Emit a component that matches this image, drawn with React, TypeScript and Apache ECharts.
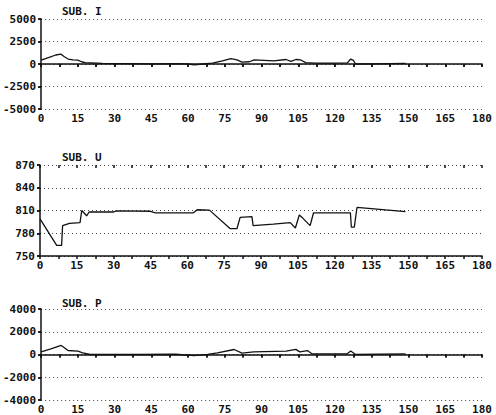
import React, { useEffect, useRef } from "react";
import * as echarts from "echarts";

// ---- Data ----
const xTickLabels = ["0", "15", "30", "45", "60", "75", "90", "105", "120", "135", "150", "165", "180"];

const titles = ["SUB. I", "SUB. U", "SUB. P"];

const iX = [0, 3, 6, 8, 9.5, 11, 13, 15, 16.5, 18, 25, 35, 45, 55, 60, 62.5, 66, 70, 74, 77.5, 80, 82, 85, 87, 95, 100, 102, 104, 106, 108, 112, 120, 125, 126.4, 127.5, 128.4, 135, 148.8];
const iY = [440, 700, 1000, 1100, 800, 550, 450, 420, 250, 150, 80, 50, 20, 50, 0, -100, 0, 100, 350, 600, 450, 200, 250, 450, 350, 500, 300, 500, 450, 150, 100, 100, 120, 550, 400, 0, 20, 70];

const uX = [0, 6.8, 8.8, 9.2, 12, 16.3, 17, 19, 20, 30, 31, 45, 47, 62.5, 64, 69, 77.5, 80.2, 81.5, 86.3, 86.8, 95, 101.9, 104, 105.6, 107, 110, 111.4, 126.4, 126.8, 128, 128.5, 129.1, 148.8];
const uY = [799, 764, 764, 790, 793, 794, 810, 803, 808, 808, 809.5, 809, 807, 807, 811, 810.5, 786, 786, 801, 802, 790, 792, 794, 787, 804, 800, 790, 807, 807, 788, 788, 800, 814, 808.5];

const pX = [0, 4, 8.2, 9.5, 11, 15, 17, 20, 40, 55, 62.5, 68, 72, 78.8, 82, 86.8, 100, 104, 105.6, 108.7, 110.7, 125, 126.4, 128.4, 148.8];
const pY = [235, 500, 794, 600, 350, 300, 150, 0, 0, 20, -90, 20, 150, 440, 120, 235, 300, 450, 235, 350, 50, 60, 300, 0, 60];

const yRanges = [
  { min: -5000, max: 5000, interval: 2500 },
  { min: 750, max: 870, interval: 30 },
  { min: -4000, max: 4000, interval: 2000 },
];

const FONT = "DejaVu Sans Mono";

function pairs(xs: number[], ys: number[]) {
  return xs.map((x, i) => [x, ys[i]]);
}

export default function App() {
  const ref = useRef<HTMLDivElement>(null);
  useEffect(() => {
    if (!ref.current) return;
    const chart = echarts.init(ref.current, null, { renderer: "svg" });
    const grids = [
      { left: 40, top: 19, width: 442, height: 90 },
      { left: 40, top: 165, width: 442, height: 91 },
      { left: 40, top: 309, width: 442, height: 92 },
    ];
    const titleTops = [1, 147, 293];
    const labelStyle = { color: "#111", fontFamily: FONT, fontWeight: "bold" as const, fontSize: 11 };
    const tickLine = { color: "#111", width: 1.5 };
    const xAxes: any[] = [];
    const yAxes: any[] = [];
    grids.forEach((_, g) => {
      xAxes.push({
        type: "value", gridIndex: g, min: 0, max: 180, interval: 15,
        axisLine: { show: true, lineStyle: tickLine },
        axisTick: { show: true, length: 3, lineStyle: tickLine },
        minorTick: { show: true, splitNumber: 2, length: 3, lineStyle: tickLine },
        axisLabel: {
          ...labelStyle, margin: 4,
          formatter: (v: number) => xTickLabels[Math.round(v / 15)] ?? "",
        },
        splitLine: { show: false },
      });
      xAxes.push({
        type: "value", gridIndex: g, min: 0, max: 180, interval: 15,
        axisLine: { show: false },
        axisTick: { show: true, inside: true, length: 3, lineStyle: tickLine },
        minorTick: { show: true, splitNumber: 2, length: 3, lineStyle: tickLine },
        axisLabel: { show: false },
        splitLine: { show: false },
      });
      const r = yRanges[g];
      yAxes.push({
        type: "value", gridIndex: g, min: r.min, max: r.max, interval: r.interval,
        axisLine: { show: true, lineStyle: tickLine },
        axisTick: { show: true, length: 3, lineStyle: tickLine },
        axisLabel: { ...labelStyle, margin: 5, formatter: (v: number) => String(v) },
        splitLine: { show: true, lineStyle: { color: "#444", type: [1, 3], width: 1 } },
      });
      yAxes.push({
        type: "value", gridIndex: g, min: r.min, max: r.max, interval: r.interval,
        axisLine: { show: false },
        axisTick: { show: true, inside: true, length: 3, lineStyle: tickLine },
        axisLabel: { show: false },
        splitLine: { show: false },
      });
    });
    const datasets = [pairs(iX, iY), pairs(uX, uY), pairs(pX, pY)];
    chart.setOption({
      animation: false,
      backgroundColor: "#fff",
      title: titles.map((t, i) => ({
        text: t, left: 57, top: titleTops[i],
        textStyle: { ...labelStyle, fontSize: 11 },
      })),
      grid: grids,
      xAxis: xAxes,
      yAxis: yAxes,
      series: datasets.map((d, g) => ({
        type: "line",
        xAxisIndex: g * 2,
        yAxisIndex: g * 2,
        data: d,
        showSymbol: false,
        lineStyle: { color: "#111", width: 1.3 },
      })),
    });
    return () => chart.dispose();
  }, []);
  return (
    <div
      ref={ref}
      style={{ position: "fixed", left: 0, top: 0, width: 496, height: 415, background: "#fff" }}
    />
  );
}
